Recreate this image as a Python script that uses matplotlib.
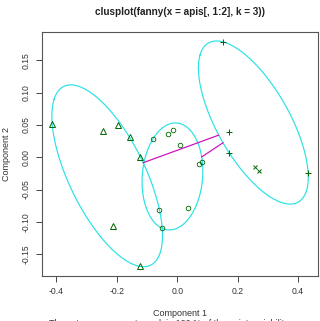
import numpy as np
import matplotlib
matplotlib.use("Agg")
import matplotlib.pyplot as plt

# points in component space
tri_x = [-0.414, -0.247, -0.196, -0.158, -0.124, -0.212, -0.124]
tri_y = [0.052, 0.040, 0.0495, 0.031, 0.001, -0.106, -0.169]
circ_x = [-0.081, -0.032, -0.013, 0.009, 0.072, 0.083, -0.061, -0.050, 0.034]
circ_y = [0.028, 0.036, 0.043, 0.019, -0.010, -0.007, -0.082, -0.110, -0.078]
plus_x = [0.150, 0.172, 0.172, 0.433]
plus_y = [0.179, 0.039, 0.0067, -0.024]
cross_x = [0.257, 0.270]
cross_y = [-0.0145, -0.021]

x_ticks = [-0.4, -0.2, 0.0, 0.2, 0.4]
y_ticks = [-0.15, -0.10, -0.05, 0.00, 0.05, 0.10, 0.15]

CYAN = "#28E2E5"
MAGENTA = "#CD0BBC"
GREEN = "#006400"
FONT = "Liberation Sans"


def mvee(points, tol=1e-6, max_iter=5000):
    # minimum volume enclosing ellipse (Khachiyan), like ellipsoidhull()
    n, d = points.shape
    q = np.column_stack([points, np.ones(n)]).T
    u = np.ones(n) / n
    for _ in range(max_iter):
        x = q @ np.diag(u) @ q.T
        m = np.einsum("ij,ji->i", q.T @ np.linalg.inv(x), q)
        j = np.argmax(m)
        step = (m[j] - d - 1) / ((d + 1) * (m[j] - 1))
        new_u = (1 - step) * u
        new_u[j] += step
        err = np.linalg.norm(new_u - u)
        u = new_u
        if err < tol:
            break
    c = points.T @ u
    a = np.linalg.inv(points.T @ np.diag(u) @ points - np.outer(c, c)) / d
    # scale so every point sits inside or on the border
    r = max((p - c) @ a @ (p - c) for p in points)
    return c, a / r


def ellipse_xy(c, a, n=300):
    vals, vecs = np.linalg.eigh(a)
    t = np.linspace(0, 2 * np.pi, n)
    circle = np.vstack([np.cos(t), np.sin(t)])
    pts = vecs @ np.diag(1 / np.sqrt(vals)) @ circle
    return c[0] + pts[0], c[1] + pts[1]


clusters = [
    np.column_stack([tri_x, tri_y]),
    np.column_stack([circ_x, circ_y]),
    np.column_stack([plus_x + cross_x, plus_y + cross_y]),
]

fig = plt.figure(figsize=(3.2, 3.21), dpi=100)
ax = fig.add_axes([0.131, 0.140, 0.863, 0.760])

hulls = [mvee(p) for p in clusters]
for c, a in hulls:
    ex, ey = ellipse_xy(c, a)
    ax.plot(ex, ey, color=CYAN, lw=0.85)

# distance lines between ellipse borders of separated clusters
for i in range(len(hulls)):
    for j in range(i + 1, len(hulls)):
        ci, ai = hulls[i]
        cj, aj = hulls[j]
        d = cj - ci
        ti = 1 / np.sqrt(d @ ai @ d)
        tj = 1 / np.sqrt(d @ aj @ d)
        if ti + tj < 1:
            p1 = ci + ti * d
            p2 = cj - tj * d
            ax.plot([p1[0], p2[0]], [p1[1], p2[1]], color=MAGENTA, lw=0.85)

ax.plot(tri_x, tri_y, "^", ms=4.0, mfc="none", mec=GREEN, mew=0.7, ls="none")
ax.plot(circ_x, circ_y, "o", ms=3.3, mfc="none", mec=GREEN, mew=0.6, ls="none")
ax.plot(plus_x, plus_y, "+", ms=4.5, mec=GREEN, mew=0.7, ls="none")
ax.plot(cross_x, cross_y, "x", ms=3.5, mec=GREEN, mew=0.7, ls="none")

ax.set_xlim(-0.448, 0.466)
ax.set_ylim(-0.184, 0.194)
ax.set_xticks(x_ticks)
ax.set_xticklabels([f"{v:.1f}" for v in x_ticks], fontsize=6.2, family=FONT, color="#333333")
ax.set_yticks(y_ticks)
ax.set_yticklabels([f"{v:.2f}" for v in y_ticks], fontsize=6.2, family=FONT,
                   color="#333333", rotation=90, va="center")
ax.tick_params(length=4, width=0.7, color="#444444", pad=4)
for s in ax.spines.values():
    s.set_color("#555555")
    s.set_linewidth(0.8)

ax.set_xlabel("Component 1", fontsize=6.5, family=FONT, color="#333333", labelpad=9)
ax.set_ylabel("Component 2", fontsize=6.5, family=FONT, color="#333333", va="center")
ax.yaxis.set_label_coords(-0.128, 0.5)
fig.text(0.5636, 0.963, "clusplot(fanny(x = apis[, 1:2], k = 3))", ha="center", va="center",
         fontsize=7.2, fontweight="bold", family=FONT, color="#222222")
fig.text(0.53, 0.007, "These two components explain 100 % of the point variability.",
         ha="center", va="top", fontsize=6.5, family=FONT, color="#333333")

fig.savefig("out.png", dpi=100)
